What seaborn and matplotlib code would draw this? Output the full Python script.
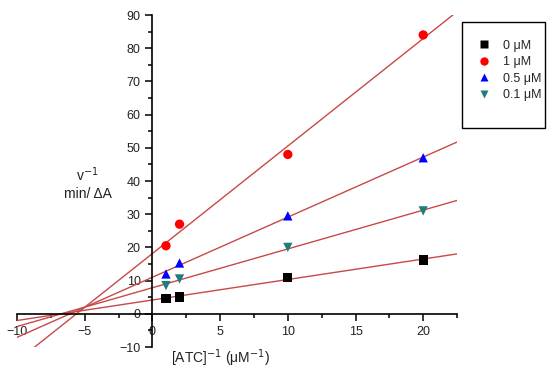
import numpy as np
import pandas as pd
import seaborn as sns
from matplotlib import pyplot as plt
from matplotlib.patches import Rectangle

# Lineweaver-Burk data
atc_inv = [1, 2, 10, 20]
v_0uM = [4.7, 5.1, 11.0, 16.2]
v_1uM = [20.5, 27.0, 48.0, 84.0]
v_05uM = [12.0, 15.3, 29.5, 47.0]
v_01uM = [8.5, 10.5, 20.0, 31.0]
labels = ["0 \u03bcM", "1 \u03bcM", "0.5 \u03bcM", "0.1 \u03bcM"]

series = [v_0uM, v_1uM, v_05uM, v_01uM]
df = pd.DataFrame({
    "x": atc_inv * 4,
    "y": sum(series, []),
    "conc": [lab for lab in labels for _ in atc_inv],
})

colors = {labels[0]: "#000000", labels[1]: "#ff0000",
          labels[2]: "#0000ff", labels[3]: "#1f7c7c"}
marks = {labels[0]: "s", labels[1]: "o", labels[2]: "^", labels[3]: "v"}

sns.set_style("ticks")
plt.rcParams["font.family"] = ["Liberation Sans", "DejaVu Sans"]

fig = plt.figure(figsize=(5.5, 3.73), dpi=100)
ax = fig.add_axes([0.031, 0.0697, 0.80, 0.890])
ax.set_xlim(-10, 22.5)
ax.set_ylim(-10, 90)

for lab, vals in zip(labels, series):
    sns.regplot(x=atc_inv, y=vals, ax=ax, scatter=False, ci=None,
                truncate=False, color="#c94848", line_kws={"lw": 1.0})

sns.scatterplot(data=df, x="x", y="y", hue="conc", style="conc",
                palette=colors, markers=marks, s=45, edgecolor="none",
                ax=ax, zorder=3, legend=True)

# axes crossing at the origin
ax.spines["left"].set_position(("data", 0))
ax.spines["bottom"].set_position(("data", 0))
ax.spines["top"].set_visible(False)
ax.spines["right"].set_visible(False)
for sp in ["left", "bottom"]:
    ax.spines[sp].set_linewidth(1.2)
    ax.spines[sp].set_color("black")

ax.set_xticks([-10, -5, 0, 5, 10, 15, 20])
ax.set_xticks(np.arange(-7.5, 23, 5), minor=True)
ax.set_yticks(np.arange(-10, 91, 10))
ax.set_yticks(np.arange(-5, 90, 10), minor=True)
ax.tick_params(which="major", direction="out", length=5, width=1.1,
               labelsize=9, color="black", labelcolor="#222222")
ax.tick_params(which="minor", direction="out", length=3, width=1.1,
               color="black")
ax.set_xlabel("")
ax.set_ylabel("")

ax.text(-4.8, 42, "v$^{-1}$", ha="center", va="center", fontsize=10,
        color="#222222")
ax.text(-4.8, 36, "min/ \u0394A", ha="center", va="center", fontsize=10,
        color="#222222")
fig.text(0.40, 0.04, "[ATC]$^{-1}$ (\u03bcM$^{-1}$)", ha="center",
         va="center", fontsize=10, color="#222222")

# legend in a box on the right
handles, lbls = ax.get_legend_handles_labels()
ax.legend(handles, lbls, loc="upper left", bbox_to_anchor=(0.846, 0.91),
          bbox_transform=fig.transFigure, frameon=False, fontsize=9,
          handletextpad=0.5, labelspacing=0.35, borderpad=0, markerscale=0.9)
fig.patches.append(Rectangle((0.84, 0.657), 0.151, 0.284,
                             transform=fig.transFigure, fill=False,
                             edgecolor="black", lw=1.0))

plt.savefig("out.png", dpi=100)
